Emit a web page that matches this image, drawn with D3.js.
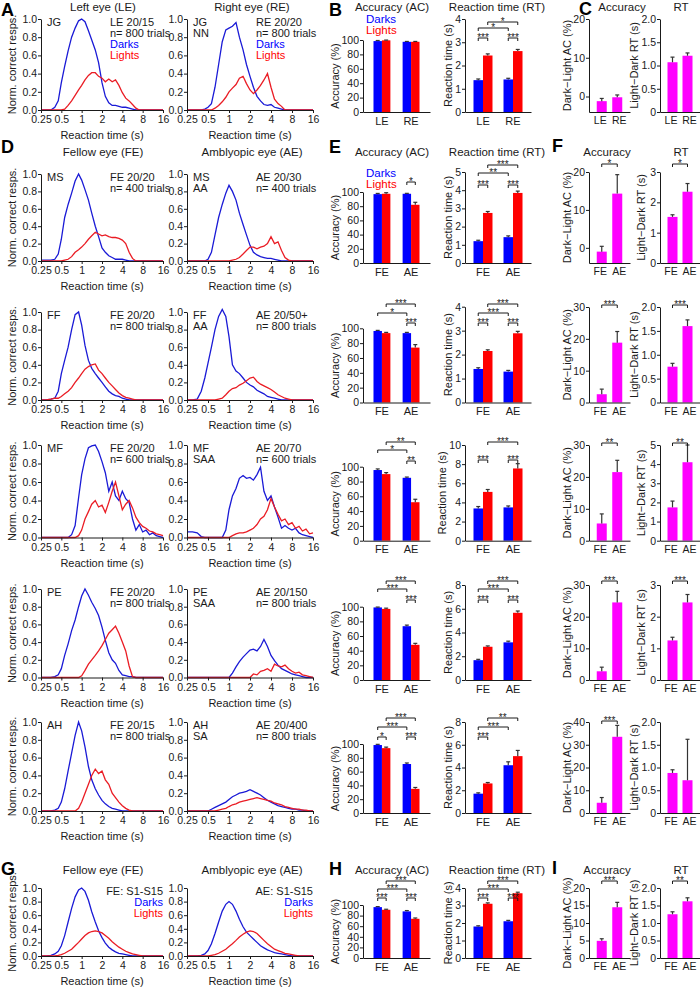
<!DOCTYPE html>
<html><head><meta charset="utf-8">
<script src="https://cdn.jsdelivr.net/npm/d3@7"></script>
<style>body{margin:0;background:#fff}svg{display:block}</style>
</head><body><svg id="fig" width="700" height="988"></svg>
<script>
// ================= DATA =================
const rtBins = [0.25,0.3,0.35,0.4,0.45,0.5,0.56,0.63,0.71,0.8,0.9,1.0,1.12,1.26,1.41,1.59,1.78,2.0,2.24,2.52,2.83,3.17,3.56,4.0,4.49,5.04,5.66,6.35,7.13,8.0,8.98,10.1,11.3,12.7,14.3,16];
const rtTicks = [0.25,0.5,1,2,4,8,16];
const normTicks = [0,0.2,0.4,0.6,0.8,1.0];

// normalized correct responses (Darks / Lights) per subject & eye
const jgLE_dark  = [0,0,0,0.03,0.1, 0.3,0.48,0.65,0.8,0.9, 0.98,1.0,0.97,0.87,0.77, 0.66,0.52,0.3,0.15,0.08, 0.05,0.05,0.04,0.03,0.03, 0.02,0.01,0, 0,0,0,0,0,0,0,0];
const jgLE_light = [0,0,0,0,0,0, 0.01,0.05,0.1,0.16,0.22, 0.27,0.33,0.38,0.41,0.41, 0.37,0.35,0.31,0.34,0.31, 0.33,0.27,0.19,0.13,0.1, 0.06,0.02,0, 0,0,0,0,0,0,0];
const jgRE_dark  = [0,0,0,0,0.01, 0.03,0.07,0.25,0.5,0.75, 0.88,0.9,0.92,0.96,0.8, 0.66,0.5,0.37,0.25,0.15, 0.1,0.06,0.05,0.06,0.03, 0.02,0.01, 0,0,0,0,0,0,0,0,0];
const jgRE_light = [0,0,0,0,0,0,0, 0.02,0.05,0.09,0.14,0.2, 0.24,0.28,0.35,0.37,0.29, 0.22,0.18,0.22,0.27,0.33, 0.4,0.25,0.12,0.07,0.04, 0, 0,0,0,0,0,0,0,0];
const msFE_dark  = [0.01,0.01,0.01,0.02,0.08, 0.25,0.5,0.65,0.78,0.92, 1.0,0.93,0.82,0.7,0.55, 0.4,0.28,0.15,0.1,0.06, 0.04,0.02,0.02,0.02,0.01, 0, 0,0,0,0,0,0,0,0,0,0];
const msFE_light = [0,0,0,0,0, 0,0.01,0.02,0.05,0.1, 0.13,0.16,0.2,0.25,0.29, 0.33,0.31,0.29,0.3,0.28, 0.27,0.27,0.26,0.24,0.2, 0.1,0.03,0, 0,0,0,0,0,0,0,0];
const msAE_dark  = [0,0,0,0,0, 0.02,0.1,0.3,0.5,0.65, 0.78,0.87,0.8,0.7,0.55, 0.42,0.3,0.18,0.1,0.07, 0.05,0.04,0.03,0.03,0.02, 0.01,0, 0,0,0,0,0,0,0,0,0];
const msAE_light = [0,0,0,0,0, 0,0,0,0,0, 0,0,0.01,0.02,0.04, 0.08,0.12,0.16,0.16,0.14, 0.16,0.17,0.2,0.28,0.2, 0.22,0.12,0.04,0.01,0, 0,0,0,0,0,0];
const ffFE_dark  = [0,0,0.01,0.02,0.1, 0.3,0.45,0.6,0.8,0.97, 1.0,0.85,0.62,0.45,0.36, 0.3,0.25,0.2,0.15,0.1, 0.07,0.05,0.04,0.02,0.01, 0, 0,0,0,0,0,0,0,0,0,0];
const ffFE_light = [0,0,0.01,0.02,0.02, 0.04,0.07,0.1,0.14,0.2, 0.25,0.3,0.35,0.38,0.4, 0.41,0.34,0.3,0.25,0.2, 0.16,0.12,0.08,0.05,0.03, 0.02,0.01,0, 0,0,0,0,0,0,0,0];
const ffAE_dark  = [0,0,0.01,0.1,0.25, 0.42,0.6,0.8,0.95,1.03, 0.95,0.72,0.4,0.33,0.3, 0.25,0.2,0.17,0.15,0.11, 0.09,0.07,0.04,0.03,0.02, 0.01,0, 0,0,0,0,0,0,0,0,0];
const ffAE_light = [0,0,0,0,0, 0,0,0,0.01,0.02, 0.06,0.1,0.13,0.14,0.17, 0.19,0.22,0.25,0.26,0.21, 0.18,0.16,0.14,0.12,0.09, 0.06,0.04,0.02,0.01,0, 0,0,0,0,0,0];
const mfFE_dark  = [0,0,0,0,0, 0,0,0,0.03,0.13, 0.43,0.68,0.85,0.97,0.99, 1.0,0.93,0.82,0.7,0.5, 0.6,0.45,0.4,0.5,0.42, 0.38,0.2,0.08,0.14,0.06, 0.08,0.03,0.05,0.02,0.01,0];
const mfFE_light = [0,0,0,0,0, 0,0,0,0,0, 0.02,0.08,0.2,0.28,0.36, 0.4,0.33,0.35,0.27,0.38, 0.5,0.6,0.45,0.3,0.36, 0.4,0.32,0.22,0.16,0.12, 0.1,0.07,0.06,0.04,0.03,0.02];
const mfAE_dark  = [0.06,0.06,0.05,0.01,0, 0,0,0,0,0, 0.08,0.3,0.45,0.53,0.64, 0.67,0.64,0.65,0.62,0.68, 0.76,0.5,0.4,0.45,0.33, 0.22,0.1,0.13,0.1,0.08, 0.1,0.05,0.03,0.02,0.01,0];
const mfAE_light = [0,0,0,0,0, 0,0,0,0,0, 0,0,0.02,0.04,0.05, 0.05,0.06,0.08,0.1,0.14, 0.2,0.23,0.3,0.42,0.33, 0.25,0.18,0.2,0.14,0.16, 0.1,0.12,0.07,0.09,0.04,0.05];
const peFE_dark  = [0,0,0,0.01,0.03, 0.1,0.25,0.38,0.53,0.65, 0.8,0.92,1.0,0.93,0.85, 0.78,0.7,0.57,0.42,0.28, 0.2,0.16,0.08,0.03,0.02, 0.01,0.01,0, 0,0,0,0,0,0,0,0];
const peFE_light = [0,0,0,0,0, 0,0,0,0,0, 0,0.02,0.08,0.15,0.2, 0.25,0.3,0.36,0.43,0.5, 0.54,0.58,0.5,0.4,0.3, 0.13,0.01,0, 0,0,0,0,0,0,0,0];
const peAE_dark  = [0,0,0,0,0, 0,0,0,0,0, 0,0,0.05,0.12,0.18, 0.23,0.27,0.31,0.32,0.3, 0.35,0.43,0.35,0.25,0.19, 0.14,0.1,0.08,0.06,0.04, 0.03,0.02,0.01,0,0,0];
const peAE_light = [0,0,0,0,0, 0,0,0,0,0, 0,0,0,0,0, 0,0,0,0.04,0.03, 0.07,0.08,0.1,0.07,0.15, 0.13,0.12,0.14,0.1,0.07, 0.05,0.06,0.03,0.02,0.01,0];
const ahFE_dark  = [0,0,0,0.01,0.03, 0.1,0.25,0.45,0.65,0.85, 1.0,0.9,0.72,0.5,0.35, 0.25,0.18,0.12,0.08,0.05, 0.03,0.02,0.01,0, 0,0,0,0,0,0,0,0,0,0,0,0];
const ahFE_light = [0,0,0,0,0, 0,0,0,0,0, 0.03,0.1,0.2,0.3,0.4, 0.47,0.42,0.45,0.35,0.3, 0.2,0.15,0.1,0.06,0.03, 0.01,0, 0,0,0,0,0,0,0,0,0];
const ahAE_dark  = [0,0,0,0,0, 0,0.02,0.04,0.06,0.08, 0.1,0.13,0.16,0.18,0.2, 0.21,0.22,0.24,0.22,0.2, 0.18,0.15,0.12,0.1,0.08, 0.06,0.05,0.04,0.03,0.02, 0.02,0.01,0.01,0,0,0];
const ahAE_light = [0,0,0,0,0, 0,0,0,0.01,0.02, 0.03,0.05,0.07,0.08,0.1, 0.11,0.12,0.13,0.14,0.15, 0.14,0.13,0.12,0.11,0.09, 0.08,0.07,0.05,0.04,0.03, 0.02,0.02,0.01,0.01,0,0];
const grpFE_dark  = [0,0,0.01,0.03,0.07, 0.15,0.3,0.5,0.7,0.87, 0.97,1.0,0.95,0.82,0.65, 0.5,0.37,0.27,0.19,0.13, 0.09,0.06,0.04,0.03,0.02, 0.01,0, 0,0,0,0,0,0,0,0,0];
const grpFE_light = [0,0,0,0,0.01, 0.02,0.04,0.07,0.1,0.15, 0.2,0.25,0.3,0.34,0.36, 0.37,0.36,0.34,0.3,0.26, 0.21,0.17,0.13,0.1,0.07, 0.05,0.03,0.02,0.01,0, 0,0,0,0,0,0];
const grpAE_dark  = [0,0,0,0.01,0.03, 0.08,0.18,0.33,0.5,0.66, 0.76,0.8,0.76,0.66,0.54, 0.43,0.35,0.3,0.25,0.2, 0.15,0.12,0.09,0.07,0.05, 0.04,0.03,0.02,0.01,0, 0,0,0,0,0,0];
const grpAE_light = [0,0,0,0,0, 0,0.01,0.02,0.04,0.07, 0.1,0.14,0.18,0.23,0.28, 0.32,0.35,0.37,0.36,0.33, 0.28,0.23,0.18,0.14,0.1, 0.08,0.06,0.04,0.03,0.02, 0.01,0,0,0,0,0];

// bars: [eye1 Darks, eye1 Lights, eye2 Darks, eye2 Lights]
const acc_JG = [98.5,99.5,97.5,97.5], accErr_JG = [0.8,0.4,0.5,0.5];
const rt_JG  = [1.37,2.43,1.40,2.62], rtErr_JG = [0.05,0.07,0.05,0.07];
const dAcc_JG = [-1.2,-0.2], dAccErr_JG = [0.7,0.6];
const dRt_JG  = [1.07,1.21], dRtErr_JG = [0.11,0.06];
const acc_MS = [97,97.5,97.5,82], accErr_MS = [1,1.5,0.6,3.5];
const rt_MS  = [1.2,2.75,1.42,3.85], rtErr_MS = [0.05,0.08,0.07,0.1];
const dAcc_MS = [-1.0,14.3], dAccErr_MS = [1.4,5];
const dRt_MS  = [1.52,2.35], dRtErr_MS = [0.07,0.27];
const acc_FF = [96.4,93.5,93.5,74], accErr_FF = [0.8,1,1,4];
const rt_FF  = [1.4,2.15,1.29,2.89], rtErr_FF = [0.05,0.05,0.05,0.08];
const dAcc_FF = [2.6,18.8], dAccErr_FF = [1.6,3.5];
const dRt_FF  = [0.75,1.6], dRtErr_FF = [0.07,0.13];
const acc_MF = [95.5,90,85,52], accErr_MF = [1.5,2,1,4];
const rt_MF  = [3.37,5.1,3.48,7.55], rtErr_MF = [0.2,0.25,0.15,0.5];
const dAcc_MF = [5.4,21.5], dAccErr_MF = [3,3.7];
const dRt_MF  = [1.74,4.1], dRtErr_MF = [0.33,0.9];
const acc_PE = [99,97,73.4,48], accErr_PE = [0.5,1,1.5,2];
const rt_PE  = [1.67,2.8,3.17,5.66], rtErr_PE = [0.07,0.07,0.1,0.15];
const dAcc_PE = [2.75,24.5], dAccErr_PE = [1.3,3.5];
const dRt_PE  = [1.25,2.45], dRtErr_PE = [0.1,0.25];
const acc_AH = [98.5,94,71,35], accErr_AH = [1,1.5,1.5,2];
const rt_AH  = [1.7,2.6,4.2,5.0], rtErr_AH = [0.07,0.08,0.3,0.5];
const dAcc_AH = [4.5,33.5], dAccErr_AH = [2.3,5];
const dRt_AH  = [0.88,0.72], dRtErr_AH = [0.07,0.9];
const acc_GRP = [96,91,88,74], accErr_GRP = [1,1,1.5,1.5];
const rt_GRP  = [1.8,3.1,2.1,3.7], rtErr_GRP = [0.04,0.05,0.05,0.06];
const dAcc_GRP = [4.9,14.5], dAccErr_GRP = [0.6,1.4];
const dRt_GRP  = [1.25,1.62], dRtErr_GRP = [0.07,0.1];

// significance: [barA, barB, label]
const sigAcc_JG = [], sigRt_JG = [[0,1,"***"],[2,3,"***"],[0,2,"*"],[1,3,"*"]], sigD_JG = [null,null];
const sigAcc_MS = [[2,3,"*"]], sigRt_MS = [[0,1,"***"],[2,3,"***"],[0,2,"**"],[1,3,"***"]], sigD_MS = ["*","*"];
const sigAcc_FF = [[2,3,"***"],[0,2,"*"],[1,3,"***"]], sigRt_FF = [[0,1,"***"],[2,3,"***"],[0,2,"***"],[1,3,"***"]], sigD_FF = ["***","***"];
const sigAcc_MF = [[2,3,"**"],[0,2,"*"],[1,3,"**"]], sigRt_MF = [[0,1,"***"],[2,3,"***"],[1,3,"***"]], sigD_MF = ["**","**"];
const sigAcc_PE = [[2,3,"***"],[0,2,"***"],[1,3,"***"]], sigRt_PE = [[0,1,"***"],[2,3,"***"],[0,2,"***"],[1,3,"***"]], sigD_PE = ["***","***"];
const sigAcc_AH = [[0,1,"*"],[2,3,"***"],[0,2,"***"],[1,3,"***"]], sigRt_AH = [[0,1,"***"],[0,2,"***"],[1,3,"**"]], sigD_AH = ["***",null];
const sigAcc_GRP = [[0,1,"***"],[2,3,"***"],[0,2,"***"],[1,3,"***"]], sigRt_GRP = [[0,1,"***"],[2,3,"***"],[0,2,"***"],[1,3,"***"]], sigD_GRP = ["***","**"];

// panel text
const eyes_JG = ["LE","RE"], eyesFA = ["FE","AE"];
const txt_JG = [[["JG"],["LE 20/15","n= 800 trials","Darks","Lights"]],[["JG","NN"],["RE 20/20","n= 800 trials","Darks","Lights"]]];
const txt_MS = [[["MS"],["FE 20/20","n= 400 trials"]],[["MS","AA"],["AE 20/30","n= 400 trials"]]];
const txt_FF = [[["FF"],["FE 20/20","n= 800 trials"]],[["FF","AA"],["AE 20/50+","n= 800 trials"]]];
const txt_MF = [[["MF"],["FE 20/20","n= 600 trials"]],[["MF","SAA"],["AE 20/70","n= 600 trials"]]];
const txt_PE = [[["PE"],["FE 20/20","n= 800 trials"]],[["PE","SAA"],["AE 20/150","n= 800 trials"]]];
const txt_AH = [[["AH"],["FE 20/15","n= 800 trials"]],[["AH","SA"],["AE 20/400","n= 800 trials"]]];
const txt_GRP = [[[],["FE: S1-S15","Darks","Lights"]],[[],["AE: S1-S15","Darks","Lights"]]];

// ================= TABLE (from arrays) =================
const rows = [
 {eyes:eyes_JG, curves:[[jgLE_dark,jgLE_light],[jgRE_dark,jgRE_light]], txt:txt_JG, acc:acc_JG, accE:accErr_JG, rt:rt_JG, rtE:rtErr_JG, dA:dAcc_JG, dAE:dAccErr_JG, dR:dRt_JG, dRE:dRtErr_JG, sA:sigAcc_JG, sR:sigRt_JG, sD:sigD_JG},
 {eyes:eyesFA, curves:[[msFE_dark,msFE_light],[msAE_dark,msAE_light]], txt:txt_MS, acc:acc_MS, accE:accErr_MS, rt:rt_MS, rtE:rtErr_MS, dA:dAcc_MS, dAE:dAccErr_MS, dR:dRt_MS, dRE:dRtErr_MS, sA:sigAcc_MS, sR:sigRt_MS, sD:sigD_MS},
 {eyes:eyesFA, curves:[[ffFE_dark,ffFE_light],[ffAE_dark,ffAE_light]], txt:txt_FF, acc:acc_FF, accE:accErr_FF, rt:rt_FF, rtE:rtErr_FF, dA:dAcc_FF, dAE:dAccErr_FF, dR:dRt_FF, dRE:dRtErr_FF, sA:sigAcc_FF, sR:sigRt_FF, sD:sigD_FF},
 {eyes:eyesFA, curves:[[mfFE_dark,mfFE_light],[mfAE_dark,mfAE_light]], txt:txt_MF, acc:acc_MF, accE:accErr_MF, rt:rt_MF, rtE:rtErr_MF, dA:dAcc_MF, dAE:dAccErr_MF, dR:dRt_MF, dRE:dRtErr_MF, sA:sigAcc_MF, sR:sigRt_MF, sD:sigD_MF},
 {eyes:eyesFA, curves:[[peFE_dark,peFE_light],[peAE_dark,peAE_light]], txt:txt_PE, acc:acc_PE, accE:accErr_PE, rt:rt_PE, rtE:rtErr_PE, dA:dAcc_PE, dAE:dAccErr_PE, dR:dRt_PE, dRE:dRtErr_PE, sA:sigAcc_PE, sR:sigRt_PE, sD:sigD_PE},
 {eyes:eyesFA, curves:[[ahFE_dark,ahFE_light],[ahAE_dark,ahAE_light]], txt:txt_AH, acc:acc_AH, accE:accErr_AH, rt:rt_AH, rtE:rtErr_AH, dA:dAcc_AH, dAE:dAccErr_AH, dR:dRt_AH, dRE:dRtErr_AH, sA:sigAcc_AH, sR:sigRt_AH, sD:sigD_AH},
 {eyes:eyesFA, curves:[[grpFE_dark,grpFE_light],[grpAE_dark,grpAE_light]], txt:txt_GRP, acc:acc_GRP, accE:accErr_GRP, rt:rt_GRP, rtE:rtErr_GRP, dA:dAcc_GRP, dAE:dAccErr_GRP, dR:dRt_GRP, dRE:dRtErr_GRP, sA:sigAcc_GRP, sR:sigRt_GRP, sD:sigD_GRP}
];

// ================= LAYOUT =================
const L = [
 {top:19, bot:110, bb:112, accTop:40, rtTop:19, rtDom:[0,4], rtT:[0,1,2,3,4], dTop:19, dADom:[-4,20], dAT:[0,10,20], dRDom:[0,2], dRT:[0,0.5,1,1.5,2], brA:[0,0,0], brR:[38,28,22], brD:0, legend:[18.5,30], letters:["A","B","C"], ly:9.5, titles:["Left eye (LE)","Right eye (RE)"], ty:7, cX:579, accTX:622},
 {top:174, bot:261, bb:263, accTop:192, rtTop:172, rtDom:[0,5], rtT:[0,1,2,3,4,5], dTop:172, dADom:[-4,20], dAT:[0,10,20], dRDom:[0,3], dRT:[0,1,2,3], brA:[182,0,0], brR:[185,173,165], brD:164, legend:[173,184], letters:["D","E","F"], ly:147, titles:["Fellow eye (FE)","Amblyopic eye (AE)"], ty:152, cX:552, accTX:607},
 {top:312, bot:400, bb:402.5, accTop:328.3, rtTop:306.7, rtDom:[0,4], rtT:[0,1,2,3,4], dTop:307, dADom:[0,30], dAT:[0,10,20,30], dRDom:[0,2], dRT:[0,0.5,1,1.5,2], brA:[323,313,304], brR:[323,313,304], brD:305},
 {top:445, bot:537.5, bb:540.7, accTop:466.7, rtTop:445, rtDom:[0,10], rtT:[0,2,4,6,8,10], dTop:445, dADom:[0,30], dAT:[0,10,20,30], dRDom:[0,5], dRT:[0,1,2,3,4,5], brA:[461,450,442], brR:[460,450,442], brD:443, rtLabX:442},
 {top:589, bot:677.5, bb:680, accTop:606.7, rtTop:585, rtDom:[0,8], rtT:[0,2,4,6,8], dTop:585, dADom:[0,30], dAT:[0,10,20,30], dRDom:[0,3], dRT:[0,1,2,3], brA:[600,589,581], brR:[600,589,581], brD:581},
 {top:722, bot:811, bb:813, accTop:744, rtTop:722, rtDom:[0,8], rtT:[0,2,4,6,8], dTop:722, dADom:[0,40], dAT:[0,10,20,30,40], dRDom:[0,2], dRT:[0,0.5,1,1.5,2], brA:[737,727,718], brR:[737,727,718], brD:721},
 {top:888, bot:956, bb:958, accTop:905, rtTop:888, rtDom:[0,4], rtT:[0,1,2,3,4], dTop:888, dADom:[0,20], dAT:[0,5,10,15,20], dRDom:[0,2], dRT:[0,0.5,1,1.5,2], brA:[898,889,881], brR:[898,889,881], brD:881, letters:["G","H","I"], ly:869, titles:["Fellow eye (FE)","Amblyopic eye (AE)"], ty:870, cX:552, accTX:607, grp:true}
];

const FONT = "'Liberation Sans', Arial, Helvetica, sans-serif";
const BLUE = "#0000ff", RED = "#ff0000", MAG = "#ff00ff";
const LBLUE = "#1a1ad6", LRED = "#ea1c24", INK = "#1a1a1a";
const TICK = 10.5, TXT = 11;

const svg = d3.select("#fig").attr("font-family", FONT);

function T(g, x, y, s, o = {}) {
  return g.append("text").attr("x", x).attr("y", y).text(s)
    .attr("font-size", o.size || TXT).attr("font-weight", o.weight || null)
    .attr("fill", o.fill || INK).attr("text-anchor", o.anchor || "start")
    .attr("dominant-baseline", "central");
}
function VT(g, x, y, s, size = TXT) {
  g.append("text").attr("transform", `translate(${x},${y}) rotate(-90)`)
    .attr("text-anchor", "middle").attr("dominant-baseline", "central")
    .attr("font-size", size).attr("fill", INK).text(s);
}
function styleAxis(a) {
  a.attr("font-size", TICK).attr("font-family", FONT);
  a.selectAll("path,line").attr("stroke", INK).attr("stroke-width", 1);
  a.selectAll("text").attr("fill", INK);
}

function curvePanel(x0, x1, lay, dark, light, texts, grp) {
  const g = svg.append("g");
  const x = d3.scaleLog().base(2).domain([0.25, 16]).range([x0, x1]);
  const y = d3.scaleLinear().domain([0, 1]).range([lay.bot, lay.top]);
  const line = d3.line().x(d => x(d[0])).y(d => y(d[1]));
  g.append("path").datum(rtBins.map((t, i) => [t, dark[i]])).attr("d", line)
    .attr("fill", "none").attr("stroke", LBLUE).attr("stroke-width", 1.3);
  g.append("path").datum(rtBins.map((t, i) => [t, light[i]])).attr("d", line)
    .attr("fill", "none").attr("stroke", LRED).attr("stroke-width", 1.3);
  const ax = g.append("g").attr("transform", `translate(0,${lay.bot})`)
    .call(d3.axisBottom(x).tickValues(rtTicks).tickFormat(d => String(d)).tickSize(3).tickSizeOuter(0).tickPadding(3));
  const ay = g.append("g").attr("transform", `translate(${x0},0)`)
    .call(d3.axisLeft(y).tickValues(normTicks).tickFormat(d3.format(".1f")).tickSize(3).tickSizeOuter(0).tickPadding(1));
  styleAxis(ax); styleAxis(ay);
  T(g, (x0 + x1) / 2, lay.bot + 25, "Reaction time (s)", {anchor: "middle"});
  const lineH = 11;
  texts[0].forEach((s, i) => T(g, x0 + 6, lay.top + 3 + i * lineH, s));
  texts[1].forEach((s, i) => {
    const fill = s === "Darks" ? BLUE : s === "Lights" ? RED : INK;
    if (grp) T(g, x1, lay.top + 3 + i * lineH, s, {fill, anchor: "end"});
    else T(g, x0 + 69, lay.top + 3 + i * lineH, s, {fill});
  });
}

function fmtTick(ticks) {
  const frac = ticks.some(t => t % 1 !== 0);
  return d => d === 0 ? "0" : frac ? d.toFixed(1) : String(d);
}

function barPanel(o) {
  const g = svg.append("g");
  const y = d3.scaleLinear().domain(o.domain).range([o.bot, o.top]);
  const xg = d3.scaleBand().domain(o.cats).range([o.x0, o.x1]).paddingInner(o.pi).paddingOuter(o.po);
  const xs = d3.scaleBand().domain(o.subs).range([0, xg.bandwidth()]);
  const ns = o.subs.length;
  const bx = i => xg(o.cats[Math.floor(i / ns)]) + xs(o.subs[i % ns]);
  const cx = i => bx(i) + xs.bandwidth() / 2;
  g.selectAll("rect.bar").data(o.values).join("rect").attr("class", "bar")
    .attr("x", (d, i) => bx(i)).attr("width", xs.bandwidth())
    .attr("y", d => y(d)).attr("height", d => o.bot - y(d))
    .attr("fill", (d, i) => o.colors[i % o.colors.length]);
  o.values.forEach((v, i) => {
    const yt = y(v + o.errs[i]);
    g.append("line").attr("x1", cx(i)).attr("x2", cx(i)).attr("y1", y(v)).attr("y2", yt).attr("stroke", "#333").attr("stroke-width", 1.2);
    g.append("line").attr("x1", cx(i) - 2).attr("x2", cx(i) + 2).attr("y1", yt).attr("y2", yt).attr("stroke", "#333").attr("stroke-width", 1.2);
  });
  const ay = g.append("g").attr("transform", `translate(${o.x0},0)`)
    .call(d3.axisLeft(y).tickValues(o.ticks).tickFormat(fmtTick(o.ticks)).tickSize(3).tickSizeOuter(0).tickPadding(1));
  const ax = g.append("g").attr("transform", `translate(0,${o.bot})`)
    .call(d3.axisBottom(xg).tickSize(0).tickSizeOuter(0).tickPadding(5));
  styleAxis(ay); styleAxis(ax);
  ax.attr("font-size", TXT);
  if (ns === 1) ax.attr("font-size", 10.5).selectAll(".tick text").attr("dx", (d, i) => i === 0 ? -1.5 : 2);
  (o.sig || []).forEach(([a, b, lab, yy]) => {
    const xa = cx(a), xb = cx(b);
    g.append("path").attr("d", `M${xa},${yy + 3}V${yy}H${xb}V${yy + 3}`)
      .attr("fill", "none").attr("stroke", INK).attr("stroke-width", 1);
    g.append("text").attr("x", (xa + xb) / 2).attr("y", yy + 3).attr("text-anchor", "middle")
      .attr("font-size", 10).attr("fill", INK).text(lab);
  });
  VT(g, o.labX, (o.top + o.bot) / 2, o.label);
}

function levelY(br, a, b) {
  if (b - a === 1) return br[0];
  if (a === 0) return br[1];
  return br[2];
}

rows.forEach((r, k) => {
  const lay = L[k];
  curvePanel(41, 163, lay, r.curves[0][0], r.curves[0][1], r.txt[0], lay.grp);
  curvePanel(187, 313, lay, r.curves[1][0], r.curves[1][1], r.txt[1], lay.grp);
  VT(svg, 12, (lay.top + lay.bot) / 2, "Norm. correct resps.");
  barPanel({x0: 363, x1: 430, pi: 0.42, po: 0.36, top: lay.accTop, bot: lay.bb, domain: [0, 100], ticks: [0, 20, 40, 60, 80, 100],
    cats: r.eyes, subs: ["Darks", "Lights"], values: r.acc, errs: r.accE, colors: [BLUE, RED],
    sig: r.sA.map(([a, b, l]) => [a, b, l, levelY(lay.brA, a, b)]), label: "Accuracy (%)", labX: 335});
  barPanel({x0: 465, x1: 531, pi: 0.367, po: 0.283, top: lay.rtTop, bot: lay.bb, domain: lay.rtDom, ticks: lay.rtT,
    cats: r.eyes, subs: ["Darks", "Lights"], values: r.rt, errs: r.rtE, colors: [BLUE, RED],
    sig: r.sR.map(([a, b, l]) => [a, b, l, levelY(lay.brR, a, b)]), label: "Reaction time (s)", labX: lay.rtLabX || 448});
  barPanel({x0: 589, x1: 630, pi: 0.355, po: 0.5, top: lay.dTop, bot: lay.bb, domain: lay.dADom, ticks: lay.dAT,
    cats: r.eyes, subs: ["d"], values: r.dA, errs: r.dAE, colors: [MAG],
    sig: r.sD[0] ? [[0, 1, r.sD[0], lay.brD]] : [], label: "Dark\u2212Light AC (%)", labX: 567});
  const fracRT = lay.dRT.some(t => t % 1 !== 0);
  barPanel({x0: 660, x1: 700, pi: 0.333, po: 0.5, top: lay.dTop, bot: lay.bb, domain: lay.dRDom, ticks: lay.dRT,
    cats: r.eyes, subs: ["d"], values: r.dR, errs: r.dRE, colors: [MAG],
    sig: r.sD[1] ? [[0, 1, r.sD[1], lay.brD]] : [], label: "Light\u2212Dark RT (s)", labX: fracRT ? 634 : 641});
  if (lay.letters) {
    T(svg, 1, lay.ly, lay.letters[0], {size: 18, weight: "bold", fill: "#000"});
    T(svg, 329, lay.ly, lay.letters[1], {size: 18, weight: "bold", fill: "#000"});
    T(svg, lay.cX, lay.ly - 1, lay.letters[2], {size: 18, weight: "bold", fill: "#000"});
    T(svg, 103, lay.ty, lay.titles[0], {anchor: "middle", size: 11.5});
    T(svg, 252, lay.ty, lay.titles[1], {anchor: "middle", size: 11.5});
    T(svg, 392, lay.ty, "Accuracy (AC)", {anchor: "middle", size: 11.5});
    T(svg, 497, lay.ty, "Reaction time (RT)", {anchor: "middle", size: 11.5});
    T(svg, lay.accTX, lay.ty, "Accuracy", {anchor: "middle", size: 11.5});
    T(svg, 681, lay.ty, "RT", {anchor: "middle", size: 11.5});
    if (lay.legend) {
      T(svg, 366, lay.legend[0], "Darks", {fill: BLUE, size: 11.5});
      T(svg, 366, lay.legend[1], "Lights", {fill: RED, size: 11.5});
    }
  }
});
</script></body></html>
